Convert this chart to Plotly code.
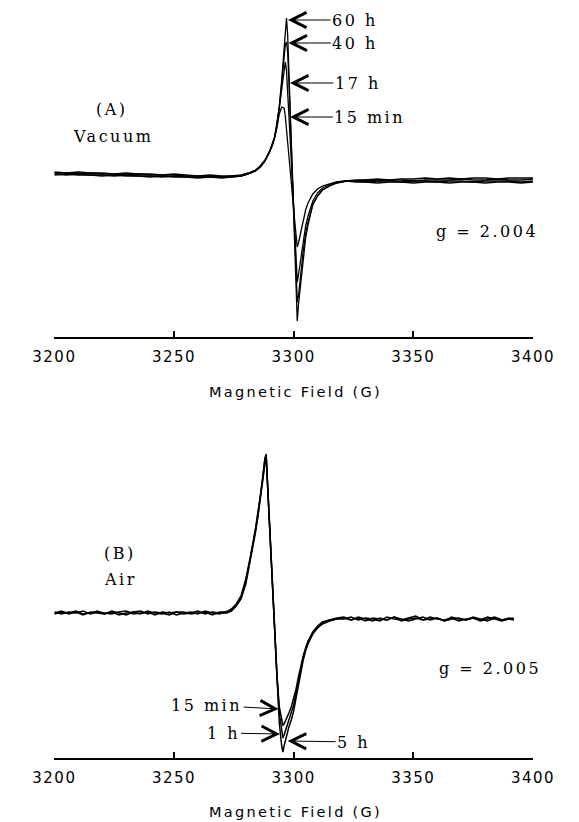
import plotly.graph_objects as go

# ---------------- data ----------------
TICK_VALUES = [3200, 3250, 3300, 3350, 3400]
TICK_LABELS = ["3200", "3250", "3300", "3350", "3400"]
AXIS_TITLE = "Magnetic Field (G)"

# Panel A (vacuum) - magnetic field (G) and EPR signal (arbitrary units)
A_FIELD = [3200, 3205, 3210, 3215, 3220, 3225, 3230, 3235, 3240, 3245, 3250, 3255, 3260, 3265, 3270,
           3274, 3278, 3281, 3284, 3286, 3288, 3290, 3291, 3292, 3293, 3294, 3295, 3296, 3296.5, 3297,
           3297.5, 3298, 3299, 3300, 3301, 3301.5, 3302, 3303, 3304, 3305, 3306, 3308, 3310, 3312, 3315,
           3318, 3322, 3326, 3330, 3335, 3340, 3345, 3350, 3355, 3360, 3365, 3370, 3375, 3380, 3385,
           3390, 3395, 3400]
A_60H = [4, 3, 4, 3, 3, 2, 3, 2, 2, 1, 2, 1, 0, 1, 0, 0, 1,
         3, 6, 10, 16, 25, 31, 39, 52, 70, 96, 131, 151, 158, 141, 106, 34, -38, -110, -145,
         -129, -104, -82, -62, -49, -28, -20, -14, -10, -7, -5,
         -4, -4, -3, -4, -3, -3, -2, -3, -2, -3, -2, -2, -3, -2, -2, -2]
A_40H = [3, 3, 2, 3, 2, 2, 1, 2, 1, 1, 1, 0, 0, 0, -1, 0, 0,
         2, 5, 9, 15, 24, 30, 38, 51, 68, 92, 121, 131, 134, 124, 96, 34, -30, -94, -126,
         -120, -96, -75, -58, -46, -29, -20, -14, -10, -7, -5,
         -5, -4, -5, -4, -4, -5, -4, -4, -4, -3, -4, -4, -3, -4, -4, -3]
A_17H = [2, 1, 2, 1, 1, 0, 1, 0, 0, -1, 0, -1, -1, -1, -1, -1, 0,
         2, 5, 9, 15, 24, 30, 38, 50, 68, 88, 110, 114, 106, 86, 61, 16, -31, -79, -106,
         -99, -82, -64, -50, -40, -25, -17, -12, -9, -6, -5,
         -5, -6, -5, -5, -6, -5, -5, -6, -5, -5, -6, -5, -5, -5, -6, -5]
A_15MIN = [1, 2, 1, 1, 0, 1, 0, 0, -1, 0, -1, -1, -2, -1, -2, -1, 0,
           2, 5, 9, 15, 24, 30, 38, 48, 62, 69, 68, 60, 48, 36, 22, -6, -34, -60, -71,
           -67, -55, -43, -34, -27, -18, -13, -10, -8, -6, -5,
           -6, -6, -7, -6, -6, -7, -6, -6, -7, -6, -6, -7, -6, -6, -7, -6]

# Panel B (air)
B_FIELD = [3200, 3203, 3206, 3209, 3212, 3215, 3218, 3221, 3224, 3227, 3230, 3233, 3236, 3239, 3242,
           3245, 3248, 3251, 3254, 3257, 3260, 3263, 3266, 3269,
           3272, 3274, 3276, 3278, 3280, 3282, 3284, 3285, 3286, 3287, 3288, 3288.5, 3289, 3290, 3291,
           3292, 3293, 3294, 3295, 3295.5, 3296, 3297, 3298, 3299, 3300, 3301, 3302, 3303, 3304, 3305,
           3306, 3308, 3310, 3312, 3315, 3318,
           3321, 3324, 3327, 3330, 3333, 3336, 3339, 3342, 3345, 3348, 3351, 3354, 3357, 3360, 3363,
           3366, 3369, 3372, 3375, 3378, 3381, 3384, 3387, 3390, 3392]
B_5H = [0, 2, -1, 1, -2, 1, 0, -1, 2, 0, -2, 1, -1, 2, 0, -1, 1, -2, 0, 1, -1, 2, 0, -1,
        1, 3, 8, 15, 31, 55, 82, 97, 114, 133, 154, 159, 134, 84, 34, -16, -66, -110, -133, -139,
        -133, -122, -114, -107, -98, -85, -71, -58, -47, -38, -31, -21, -15, -11, -8, -6,
        -5, -7, -4, -6, -8, -5, -7, -4, -6, -8, -6, -4, -7, -5, -8, -6, -5, -7, -4, -6, -8, -5, -7, -6, -7]
B_1H = [1, -1, 1, 0, 2, -1, 1, 0, -1, 1, 2, -1, 0, 1, -2, 1, 0, 1, -1, 0, 2, -1, 1, 0,
        0, 2, 7, 14, 29, 53, 80, 95, 113, 132, 153, 158, 133, 83, 33, -16, -62, -100, -120, -125,
        -122, -115, -108, -101, -92, -80, -67, -55, -44, -36, -29, -20, -14, -10, -7, -6,
        -6, -4, -7, -5, -6, -8, -4, -6, -7, -5, -3, -7, -6, -5, -8, -4, -6, -7, -5, -8, -6, -4, -7, -5, -6]
B_15MIN = [-1, 1, 0, 2, -1, 0, 2, -1, 1, -2, 0, 1, 2, -1, 1, 0, -2, 1, 1, -1, 0, 1, -2, 1,
           1, 4, 9, 17, 34, 57, 84, 99, 116, 135, 155, 157, 131, 81, 31, -19, -62, -94, -109, -112,
           -111, -106, -100, -94, -86, -76, -64, -53, -43, -35, -28, -19, -13, -9, -7, -5,
           -4, -7, -5, -8, -5, -6, -7, -4, -8, -6, -5, -7, -4, -6, -7, -5, -8, -6, -5, -7, -4, -6, -8, -6, -5]

# ---------------- figure ----------------
W, H = 579, 822
LINE_A = dict(color="black", width=1.3)
LINE_B = dict(color="black", width=1.5)

fig = go.Figure()
for name, ys in [("60 h", A_60H), ("40 h", A_40H), ("17 h", A_17H), ("15 min", A_15MIN)]:
    fig.add_trace(go.Scatter(x=A_FIELD, y=ys, mode="lines", line=LINE_A, name=name,
                             xaxis="x", yaxis="y", showlegend=False))
for name, ys in [("15 min", B_15MIN), ("1 h", B_1H), ("5 h", B_5H)]:
    fig.add_trace(go.Scatter(x=B_FIELD, y=ys, mode="lines", line=LINE_B, name=name,
                             xaxis="x2", yaxis="y2", showlegend=False))


def sp(text, ls):
    return f"<span style='letter-spacing:{ls}px'>{text}</span>"


tick_text = [sp(t, 1.5) for t in TICK_LABELS]
x_dom = [35 / W, 553 / W]
xaxis_common = dict(
    domain=x_dom, range=[3200, 3400], showline=True, linecolor="black", linewidth=1.5,
    ticks="inside", ticklen=6, tickwidth=1.5, tickcolor="black",
    tickvals=TICK_VALUES, ticktext=tick_text, ticklabelstandoff=5,
    tickfont=dict(family="DejaVu Sans", size=15, color="black"),
    showgrid=False, zeroline=False, fixedrange=True,
)

fig.update_layout(
    width=W, height=H,
    margin=dict(l=0, r=0, t=0, b=0),
    paper_bgcolor="white", plot_bgcolor="white",
    showlegend=False, hovermode=False,
    xaxis=dict(anchor="y", **xaxis_common),
    yaxis=dict(domain=[1 - 337 / H, 1.0], range=[-161, 176], visible=False, fixedrange=True),
    xaxis2=dict(anchor="y2", **xaxis_common),
    yaxis2=dict(domain=[1 - 758 / H, 1 - 420 / H], range=[-145, 193], visible=False, fixedrange=True),
)

SERIF = dict(family="DejaVu Serif", size=16, color="black")
SANS_T = dict(family="DejaVu Sans", size=14.5, color="black")


def px_note(text, px, py, font, ls):
    fig.add_annotation(text=sp(text, ls), x=px / W, y=1 - py / H, xref="paper", yref="paper",
                       xanchor="center", yanchor="middle", showarrow=False, font=font)


# axis titles
px_note(AXIS_TITLE, 296, 392, SANS_T, 2.3)
px_note(AXIS_TITLE, 296, 812, SANS_T, 2.3)

# panel labels
px_note("(A)", 97, 109, SERIF, 2.5)
px_note("Vacuum", 98, 136, SERIF, 2.5)
px_note("g = 2.004", 503, 231, SERIF, 2.5)
px_note("(B)", 106, 553, SERIF, 2.5)
px_note("Air", 107, 579, SERIF, 2.5)
px_note("g = 2.005", 506, 668, SERIF, 2.5)


def arrow_note(text, x, y, ax, ay, xref, yref):
    fig.add_annotation(text=sp(text, 2.5), x=x, y=y, xref=xref, yref=yref, ax=ax, ay=ay,
                       showarrow=True, arrowhead=5, arrowsize=3, arrowwidth=1,
                       arrowcolor="black", font=SERIF)


arrow_note("60 h", 3297.6, 156, 67, 0, "x", "y")
arrow_note("40 h", 3297.8, 133, 67, 0, "x", "y")
arrow_note("17 h", 3298.45, 93, 68, 0, "x", "y")
arrow_note("15 min", 3298.45, 59, 80, 0, "x", "y")
arrow_note("15 min", 3293.7, -96, -72, -4, "x2", "y2")
arrow_note("1 h", 3294.3, -121, -57, -1, "x2", "y2")
arrow_note("5 h", 3297.5, -128, 66, 1, "x2", "y2")

fig.write_html("out.html")
